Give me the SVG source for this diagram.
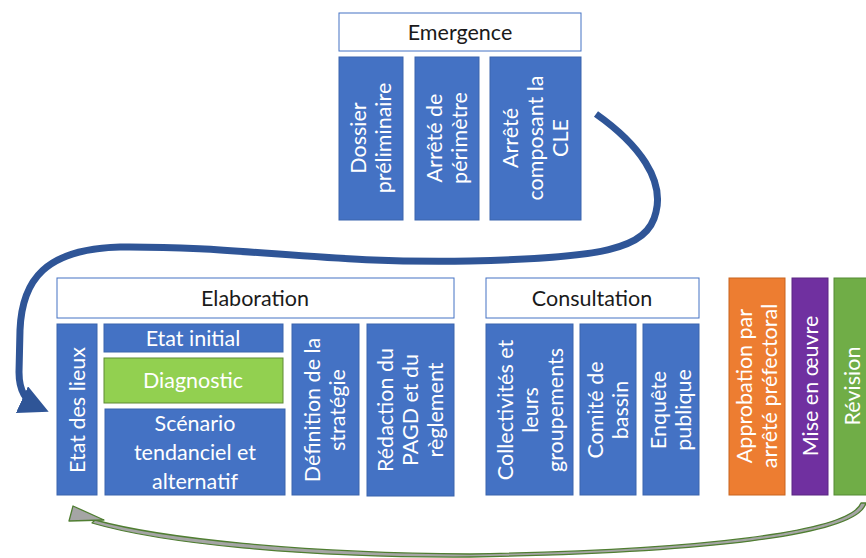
<svg xmlns="http://www.w3.org/2000/svg" width="866" height="558" viewBox="0 0 866 558">
  <style>
    .hdr { fill: #ffffff; stroke: #4472C4; stroke-width: 1; }
    .blk { fill: #4472C4; stroke: #3B64AD; stroke-width: 1; }
    .ht { font-family: Lato, "Open Sans", sans-serif; font-size: 21.5px; fill: #1a1a1a; text-anchor: middle; }
    .bt { font-family: Lato, "Open Sans", sans-serif; font-size: 21.5px; fill: #ffffff; text-anchor: middle; }
  </style>
  <defs>
    <marker id="headBlue" viewBox="0 0 10 10" refX="6" refY="5" markerWidth="4.2" markerHeight="4.2" orient="auto" markerUnits="strokeWidth">
      <path d="M0,0 L10,5 L0,10 Z" fill="#2F5597"/>
    </marker>
  </defs>

  <rect width="866" height="558" fill="#ffffff"/>

  <!-- Emergence -->
  <g id="emergence">
    <rect class="hdr" x="339" y="13" width="242" height="38"/>
    <text class="ht" x="460" y="40">Emergence</text>
  </g>
  <g id="dossier">
    <rect class="blk" x="339" y="57" width="64" height="163"/>
    <text class="bt" transform="translate(371,138) rotate(-90)"><tspan x="0" y="-5">Dossier</tspan><tspan x="0" y="20">préliminaire</tspan></text>
  </g>
  <g id="arrete-perimetre">
    <rect class="blk" x="415" y="57" width="64" height="163"/>
    <text class="bt" transform="translate(447,138) rotate(-90)"><tspan x="0" y="-5">Arrêté de</tspan><tspan x="0" y="20">périmètre</tspan></text>
  </g>
  <g id="arrete-cle">
    <rect class="blk" x="490" y="57" width="91" height="163"/>
    <text class="bt" transform="translate(535,138) rotate(-90)"><tspan x="0" y="-17">Arrêté</tspan><tspan x="0" y="8">composant la</tspan><tspan x="0" y="33">CLE</tspan></text>
  </g>

  <!-- Elaboration -->
  <g id="elaboration">
    <rect class="hdr" x="57" y="278" width="397" height="40"/>
    <text class="ht" x="255" y="306">Elaboration</text>
  </g>
  <g id="etat-des-lieux">
    <rect class="blk" x="57" y="324" width="40" height="171"/>
    <text class="bt" transform="translate(77,410) rotate(-90)"><tspan x="0" y="8">Etat des lieux</tspan></text>
  </g>
  <g id="etat-initial">
    <rect class="blk" x="104" y="324" width="179" height="28"/>
    <text class="bt" x="193" y="346">Etat initial</text>
  </g>
  <g id="diagnostic">
    <rect x="104" y="358" width="179" height="45" fill="#92D050" stroke="#5E8A34" stroke-width="1"/>
    <text class="bt" x="193" y="388">Diagnostic</text>
  </g>
  <g id="scenario">
    <rect class="blk" x="105" y="409" width="180" height="86"/>
    <text class="bt"><tspan x="195" y="431">Scénario</tspan><tspan x="195" y="460">tendanciel et</tspan><tspan x="195" y="489">alternatif</tspan></text>
  </g>
  <g id="strategie">
    <rect class="blk" x="292" y="324" width="67" height="171"/>
    <text class="bt" transform="translate(325,410) rotate(-90)"><tspan x="0" y="-5">Définition de la</tspan><tspan x="0" y="20">stratégie</tspan></text>
  </g>
  <g id="redaction">
    <rect class="blk" x="367" y="324" width="87" height="172"/>
    <text class="bt" transform="translate(410,410) rotate(-90)"><tspan x="0" y="-17">Rédaction du</tspan><tspan x="0" y="8">PAGD et du</tspan><tspan x="0" y="33">règlement</tspan></text>
  </g>

  <!-- Consultation -->
  <g id="consultation">
    <rect class="hdr" x="486" y="278" width="213" height="40"/>
    <text class="ht" x="592" y="306">Consultation</text>
  </g>
  <g id="collectivites">
    <rect class="blk" x="486" y="324" width="87" height="171"/>
    <text class="bt" transform="translate(530,410) rotate(-90)"><tspan x="0" y="-17">Collectivités et</tspan><tspan x="0" y="8">leurs</tspan><tspan x="0" y="33">groupements</tspan></text>
  </g>
  <g id="comite">
    <rect class="blk" x="580" y="324" width="56" height="171"/>
    <text class="bt" transform="translate(608,410) rotate(-90)"><tspan x="0" y="-5">Comité de</tspan><tspan x="0" y="20">bassin</tspan></text>
  </g>
  <g id="enquete">
    <rect class="blk" x="643" y="324" width="56" height="171"/>
    <text class="bt" transform="translate(671,410) rotate(-90)"><tspan x="0" y="-5">Enquête</tspan><tspan x="0" y="20">publique</tspan></text>
  </g>

  <!-- Final stages -->
  <g id="approbation">
    <rect x="729" y="278" width="56" height="217" fill="#ED7D31" stroke="#C8641F" stroke-width="1"/>
    <text class="bt" transform="translate(757,386) rotate(-90)"><tspan x="0" y="-5">Approbation par</tspan><tspan x="0" y="20">arrêté préfectoral</tspan></text>
  </g>
  <g id="mise-en-oeuvre">
    <rect x="792" y="278" width="36" height="217" fill="#7030A0" stroke="#5A2682" stroke-width="1"/>
    <text class="bt" transform="translate(810,386) rotate(-90)"><tspan x="0" y="8">Mise en œuvre</tspan></text>
  </g>
  <g id="revision">
    <rect x="834" y="278" width="40" height="217" fill="#70AD47" stroke="#558B35" stroke-width="1"/>
    <text class="bt" transform="translate(852,386) rotate(-90)"><tspan x="0" y="8">Révision</tspan></text>
  </g>

  <!-- Connectors -->
  <g id="connectors">
    <path d="M596,114 C640,145 664,180 656,212 C648,250 600,258 470,261 C330,264 240,246 120,247 C45,249 22,280 20,330 L19,372 C19,393 27,402 38,407"
          fill="none" stroke="#2F5597" stroke-width="7" stroke-linecap="butt" marker-end="url(#headBlue)"/>
    <path d="M866,503 C858,536 700,553 470,557 C300,558 160,543 92,523 L95,520 C160,538 300,553 470,554 C700,550 850,532 861,503 Z"
          fill="#A5A5A5" stroke="#507E32" stroke-width="1.3" stroke-linejoin="round"/>
    <path d="M73,506 L104,520 L69,521 Z" fill="#A5A5A5" stroke="#507E32" stroke-width="1.3" stroke-linejoin="round"/>
  </g>
</svg>
